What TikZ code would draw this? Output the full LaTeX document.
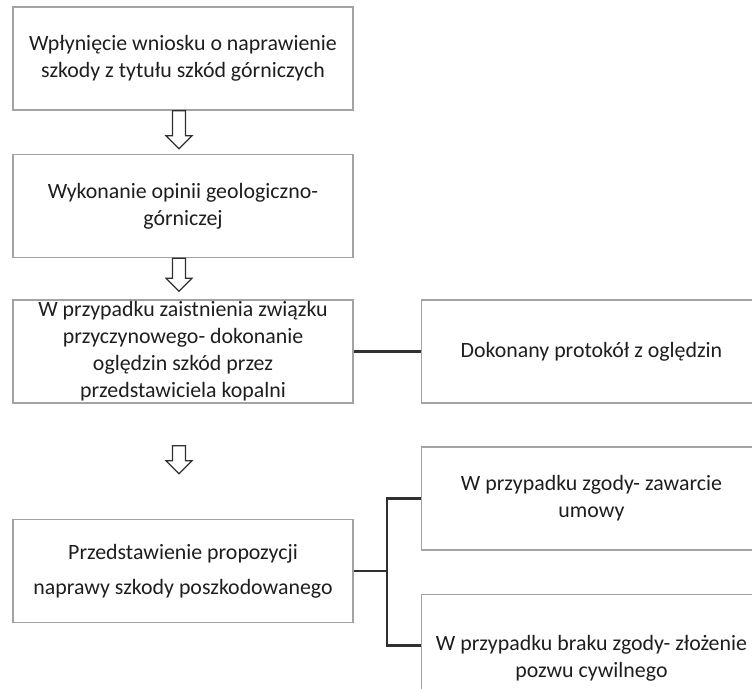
\documentclass[tikz,border=0pt]{standalone}
\usepackage{fontspec}
\setmainfont{Carlito}
\usetikzlibrary{calc}
\usetikzlibrary{positioning}

\definecolor{boxgray}{HTML}{A3A3A3}
\definecolor{linegray}{HTML}{303030}
\definecolor{textgray}{HTML}{1E1E1E}

\tikzset{
    stepbox/.style={draw=boxgray, line width=1.1pt, minimum width=255pt, minimum height=77.25pt,
        inner sep=0pt, align=center, text=textgray, font=\fontsize{16.4}{20.3}\selectfont},
    link/.style={draw=linegray, line width=1.7pt},
    hollow/.style={draw=linegray, line width=0.9pt, fill=white, line join=miter},
    pics/downarrow/.style={code={
        \draw[hollow] (-6.5,0) -- (-6.5,#1-13) -- (-13,#1-13) -- (0,#1) -- (13,#1-13)
            -- (6.5,#1-13) -- (6.5,0) -- cycle;}}
}

\begin{document}
\begin{tikzpicture}[x=0.75pt,y=-0.75pt]

    \useasboundingbox (0,0) rectangle (752,688);
    \clip (0,0) rectangle (752,688);

    % left column
    \node[stepbox] (wniosek) at (183,58.5) {Wpłynięcie wniosku o naprawienie\\szkody z tytułu szkód górniczych};
    \node[stepbox, below=32.25pt of wniosek] (opinia) {Wykonanie opinii geologiczno-\\górniczej};
    \node[stepbox, below=30.75pt of opinia] (ogledziny) {W przypadku zaistnienia związku\\przyczynowego- dokonanie\\oględzin szkód przez\\przedstawiciela kopalni};
    \node[stepbox, below=86.25pt of ogledziny] (propozycja) {Przedstawienie propozycji\\[6pt]naprawy szkody poszkodowanego};

    % right column
    \node[stepbox, right=50.25pt of ogledziny] (protokol) {Dokonany protokół z oględzin};
    \node[stepbox, right=50.25pt of propozycja, yshift=54.4pt] (zgoda) {W przypadku zgody- zawarcie\\umowy};
    \node[stepbox, below=32.25pt of zgoda, minimum height=96pt] (pozew) {W przypadku braku zgody- złożenie\\pozwu cywilnego};

    \pic at ($(wniosek.south)+(-4,0)$) {downarrow=38};
    \pic at ($(opinia.south)+(-4,0)$) {downarrow=33};
    \pic at ($(ogledziny.south)+(-4,42)$) {downarrow=28};

    \draw[link] (ogledziny.east) -- (ogledziny.east -| protokol.west);

    \coordinate (fork) at ($(propozycja.east)+(33,0)$);
    \coordinate (pozewin) at ($(pozew.north west)+(0,52)$);
    \draw[link] (propozycja.east) -- (fork);
    \draw[link] (zgoda.west) -| (fork) |- (pozewin);

\end{tikzpicture}
\end{document}
